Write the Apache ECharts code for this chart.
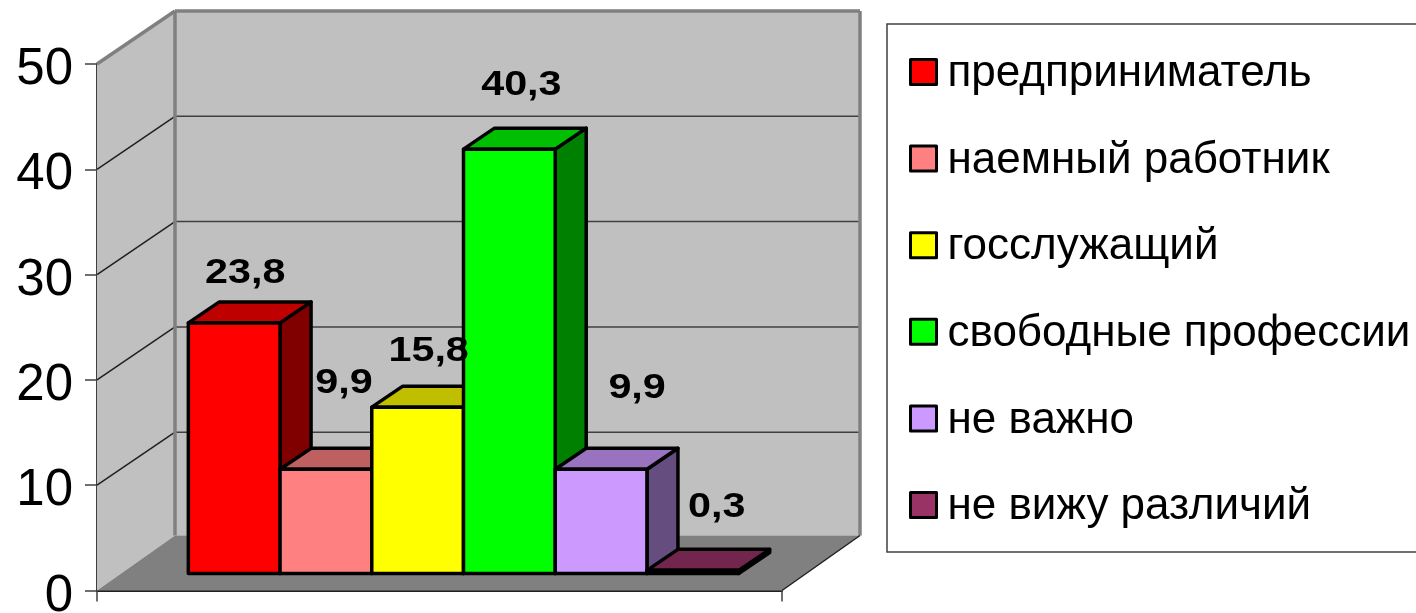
<!DOCTYPE html>
<html><head><meta charset="utf-8">
<style>html,body{margin:0;padding:0;background:#fff;overflow:hidden}#c{width:1416px;height:613px}</style>
<script src="https://cdn.jsdelivr.net/npm/echarts@6/dist/echarts.min.js"></script>
</head><body><div id="c"></div>
<script>
const categories = ['предприниматель','наемный работник','госслужащий','свободные профессии','не важно','не вижу различий'];
const values = [23.8, 9.9, 15.8, 40.3, 9.9, 0.3];
const yTicks = [0, 10, 20, 30, 40, 50];
const colors = ['#ff0000','#ff8080','#ffff00','#00ff00','#cc99ff','#993366'];

// oblique projection of the 3D box
const boxDepth = [78, -53];
const floorBack = -55;
const barInset = [24, -17];
const barDepth = [31, -21];
const barBandRatio = 0.1339;
const labelShift = [[11,-50],[18,-85.6],[11,-56],[12,-63.5],[36,-80.6],[24,-63]];

function shade(hex, k){
  const n = parseInt(hex.slice(1),16);
  return 'rgb(' + [(n>>16)&255,(n>>8)&255,n&255].map(c=>Math.round(c*k)).join(',') + ')';
}
const wallSeries = {
  type:'custom', silent:true, z:1, data:[[0,0]], encode:{x:0,y:1},
  renderItem(params, api){
    const o = api.coord([0,0]);
    const hb = api.size([1,0])[0];
    const x0 = o[0]-hb/2, x1 = o[0]+hb/2, y0 = o[1];
    const yt = api.coord([0,50])[1];
    const dx = boxDepth[0], dy = boxDepth[1], fb = y0+floorBack;
    const poly = (pts, fill) => ({type:'polygon', shape:{points:pts}, style:{fill}});
    const line = (a,b,stroke,lw) => ({type:'line', shape:{x1:a[0],y1:a[1],x2:b[0],y2:b[1]},
      style:{stroke, lineWidth:lw}});
    const ch = [
      poly([[x0+dx,yt+dy],[x1+dx,yt+dy],[x1+dx,fb],[x0+dx,fb]], '#c0c0c0'),
      poly([[x0,yt],[x0+dx,yt+dy],[x0+dx,fb],[x0,y0]], '#c0c0c0'),
      poly([[x0,y0],[x0+dx,fb],[x1+dx,fb],[x1,y0]], '#808080')
    ];
    yTicks.filter(t=>t>0 && t<50).forEach(t=>{
      const y = api.coord([0,t])[1];
      ch.push(line([x0,y],[x0+dx,y+dy],'#202020',1.5));
      ch.push(line([x0+dx,y+dy],[x1+dx,y+dy],'#404040',1.5));
    });
    ch.push(line([x0,yt],[x0+dx,yt+dy],'#808080',3.5));
    ch.push(line([x0+dx,yt+dy],[x1+dx,yt+dy],'#808080',3.5));
    ch.push(line([x0+dx,yt+dy],[x0+dx,fb],'#808080',3.5));
    ch.push(line([x1+dx,yt+dy],[x1+dx,fb],'#808080',3.5));
    ch.push(line([x1,y0],[x1+dx,fb],'#202020',1.5));
    return {type:'group', children:ch};
  }
};
const barSeries = categories.map((name,i)=>({
  type:'custom', name, z:2, data:[[0,values[i]]], encode:{x:0,y:1},
  itemStyle:{color:colors[i], borderColor:'#000', borderWidth:3},
  renderItem(params, api){
    const band = api.size([1,0])[0];
    const w = band*barBandRatio;
    const c = api.coord([0,0]);
    const top = api.coord([0,api.value(1)])[1];
    const xl = c[0]+(i-3)*w+barInset[0], xr = xl+w;
    const yb = c[1]+barInset[1], yt = top+barInset[1];
    const dx = barDepth[0], dy = barDepth[1];
    const st = f => ({fill:f, stroke:'#000', lineWidth:3.5, lineJoin:'round'});
    const cx = (xl+xr)/2;
    return {type:'group', children:[
      {type:'polygon', shape:{points:[[xr,yt],[xr+dx,yt+dy],[xr+dx,yb+dy],[xr,yb]]}, style:st(shade(colors[i],0.5))},
      {type:'polygon', shape:{points:[[xl,yt],[xl+dx,yt+dy],[xr+dx,yt+dy],[xr,yt]]}, style:st(shade(colors[i],0.75))},
      {type:'rect', shape:{x:xl,y:yt,width:w,height:yb-yt}, style:st(colors[i])},
      {type:'text', z2:100, x:cx+labelShift[i][0], y:yt+labelShift[i][1], scaleX:1.18,
        style:{text:String(values[i]).replace('.',','), fill:'#000',
          font:'bold 35px "Liberation Sans", Arial, sans-serif', align:'center', verticalAlign:'middle'}}
    ]};
  }
}));
const chart = echarts.init(document.getElementById('c'), null, {renderer:'canvas'});
chart.setOption({
  animation:false,
  backgroundColor:'#fff',
  grid:{left:97, width:685, top:64, height:526.5, containLabel:false, outerBoundsMode:'none'},
  xAxis:{type:'category', data:[''], boundaryGap:true,
    axisLine:{lineStyle:{color:'#202020',width:2}},
    axisTick:{show:true, length:11, lineStyle:{color:'#404040',width:1.5}},
    axisLabel:{show:false}, splitLine:{show:false}},
  yAxis:{type:'value', min:0, max:50, interval:10,
    axisLine:{show:true, lineStyle:{color:'#404040',width:2}},
    axisTick:{show:true, length:12, lineStyle:{color:'#404040',width:1.5}},
    axisLabel:{color:'#000', fontSize:51, margin:24, verticalAlign:'top', padding:[-19.5,0,0,0], fontFamily:'"Liberation Sans", Arial, sans-serif', formatter:v=>String(v)},
    splitLine:{show:false}},
  legend:{show:true, data:categories, orient:'vertical', left:887, top:24, selectedMode:false,
    backgroundColor:'#fff', borderColor:'#404040', borderWidth:1.5,
    padding:[24,100,23,22], itemGap:38.6, itemWidth:26, itemHeight:25, icon:'rect',
    formatter:name=>'{a|'+name+'}',
    textStyle:{color:'#000', fontSize:44, fontFamily:'"Liberation Sans", Arial, sans-serif',
      rich:{a:{color:'#000', fontSize:44, lineHeight:44, fontFamily:'"Liberation Sans", Arial, sans-serif', padding:[4,0,0,6]}}},
    itemStyle:{borderColor:'#000',borderWidth:3,borderJoin:'round'}},
  tooltip:{show:false},
  series:[wallSeries, ...barSeries]
});
</script></body></html>
